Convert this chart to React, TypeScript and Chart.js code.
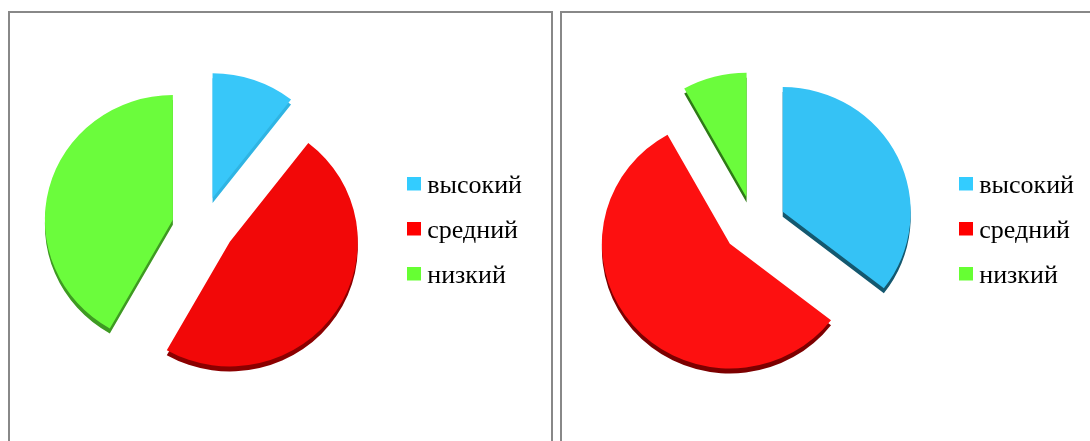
import React, { useEffect, useRef } from "react";
import { Chart, registerables } from "chart.js";

Chart.register(...registerables);

const categories = ["высокий", "средний", "низкий"];
const leftValues = [10.5, 47.7, 41.8];
const rightValues = [35.5, 56.4, 8.1];
const legendColors = ["#33CCFF", "#FF0000", "#66FF33"];
const leftColors = ["#38C7F9", "#F20808", "#6BFC3C"];
const rightColors = ["#35C2F5", "#FD1010", "#6BFC3C"];
const leftRims = ["#2FB4E3", "#8B0000", "#3E9A22"];
const rightRims = ["#14586F", "#7C0000", "#2E7A16"];
const leftNudge = [[0.5, -5], [2.5, -6.5], [-0.5, -4]];
const rightNudge = [[0.5, -6], [-1, -8], [0, -4]];

const RADIUS = 128;
const SQUISH = 0.975;

const explodePlugin = {
  id: "explode",
  beforeDatasetDraw(chart: any, args: any, opts: any) {
    const meta = chart.getDatasetMeta(args.index);
    const ctx = chart.ctx;
    meta.data.forEach((arc: any, i: number) => {
      const mid = arc.startAngle + arc.circumference / 2;
      const dx = Math.cos(mid) * opts.shift + opts.nudge[i][0];
      const dy = Math.sin(mid) * opts.shift + opts.nudge[i][1];
      const place = (extra: number) => {
        ctx.translate(arc.x + dx, arc.y + dy + extra);
        ctx.scale(1, SQUISH);
        ctx.translate(-arc.x, -arc.y);
      };
      const saved = arc.options;
      arc.options = { ...saved, backgroundColor: opts.rims[i], borderColor: opts.rims[i] };
      ctx.save();
      place(opts.depth);
      arc.draw(ctx);
      ctx.restore();
      arc.options = saved;
      ctx.save();
      place(0);
      arc.draw(ctx);
      ctx.restore();
    });
    return false;
  },
};

// Legend marker: the square sits in the upper part of a taller sprite, so that
// it lands a little above the text's middle line, as in the reference.
function legendMarker(color: string) {
  const c = document.createElement("canvas");
  c.width = 14;
  c.height = 20;
  const g = c.getContext("2d") as CanvasRenderingContext2D;
  g.fillStyle = color;
  g.fillRect(0, 0, 14, 14);
  return c;
}

type PieProps = {
  left: number;
  values: number[];
  colors: string[];
  rims: string[];
  nudge: number[][];
  shift: number;
  padLeft: number;
  padRight: number;
  padTop: number;
  padBottom: number;
};

function Pie(p: PieProps) {
  const ref = useRef<HTMLCanvasElement | null>(null);
  useEffect(() => {
    const chart = new Chart(ref.current as HTMLCanvasElement, {
      type: "pie",
      plugins: [explodePlugin as any],
      data: {
        labels: categories,
        datasets: [
          {
            data: p.values,
            backgroundColor: p.colors,
            borderWidth: 0,
            offset: 0,
          },
        ],
      },
      options: {
        responsive: false,
        animation: false,
        events: [],
        radius: RADIUS,
        layout: {
          padding: { left: p.padLeft, right: p.padRight, top: p.padTop, bottom: p.padBottom },
        },
        plugins: {
          tooltip: { enabled: false },
          explode: { rims: p.rims, depth: 5, shift: p.shift, nudge: p.nudge },
          legend: {
            position: "right",
            align: "center",
            labels: {
              usePointStyle: true,
              pointStyle: "rect",
              boxWidth: 0.5,
              boxHeight: 14,
              padding: 19,
              color: "#000000",
              font: { family: "'Liberation Serif'", size: 26 },
              generateLabels: () =>
                categories.map((text, i) => ({
                  text,
                  fillStyle: legendColors[i],
                  strokeStyle: legendColors[i],
                  lineWidth: 0,
                  pointStyle: legendMarker(legendColors[i]),
                  index: i,
                })),
            },
          },
        } as any,
      },
    });
    return () => chart.destroy();
  }, []);
  return (
    <div
      style={{
        position: "absolute",
        left: p.left,
        top: 11,
        width: 541,
        height: 440,
        border: "2px solid #888888",
        background: "#fff",
      }}
    >
      <canvas ref={ref} width={541} height={430} style={{ display: "block" }} />
    </div>
  );
}

export default function App() {
  return (
    <div style={{ position: "absolute", left: 0, top: 0, width: 1090, height: 441, overflow: "hidden", background: "#fff" }}>
      <Pie left={8} values={leftValues} colors={leftColors} rims={leftRims} nudge={leftNudge} shift={30} padLeft={0} padRight={19} padTop={43} padBottom={36} />
      <Pie left={560} values={rightValues} colors={rightColors} rims={rightRims} nudge={rightNudge} shift={31} padLeft={0} padRight={19} padTop={43} padBottom={36} />
    </div>
  );
}
